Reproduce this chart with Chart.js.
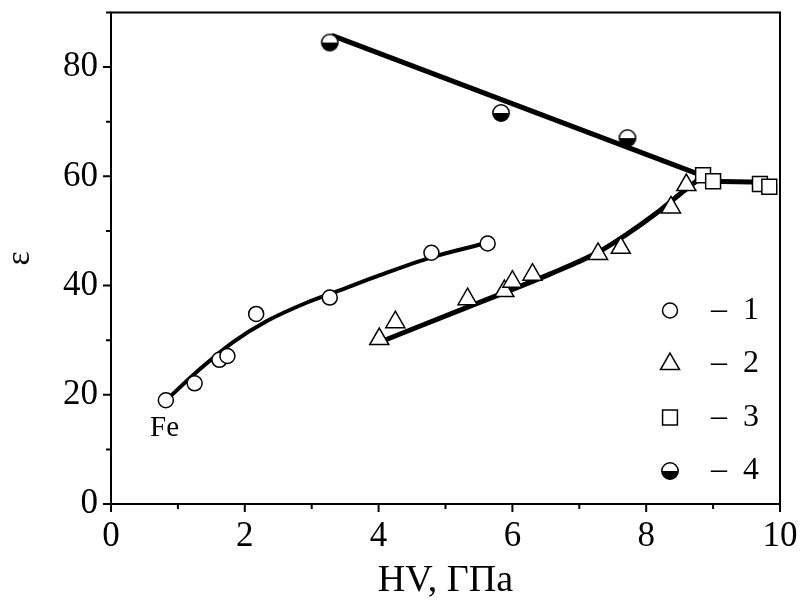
<!DOCTYPE html>
<html>
<head>
<meta charset="utf-8">
<script src="https://cdn.jsdelivr.net/npm/chart.js@4.4.1/dist/chart.umd.min.js"></script>
<style>
  html, body { margin: 0; padding: 0; background: #fff; }
  #wrap { width: 802px; height: 608px; }
</style>
</head>
<body>
<div id="wrap"><canvas id="grafico" width="802" height="608"></canvas></div>
<script>
// serie 1 (circulos)
const hv1 = [0.82, 1.25, 1.62, 1.74, 2.17, 3.27, 4.79, 5.63];
const eps1 = [19.0, 22.1, 26.4, 27.1, 34.8, 37.8, 46.0, 47.7];
// serie 2 (triangulos)
const hv2 = [4.01, 4.25, 5.33, 5.88, 6.0, 6.3, 7.28, 7.62, 8.37, 8.6];
const eps2 = [30.2, 33.3, 37.5, 39.0, 40.7, 42.0, 45.8, 46.9, 54.3, 58.4];
// serie 3 (cuadrados)
const hv3 = [8.85, 9.0, 9.7, 9.84];
const eps3 = [60.2, 59.1, 58.6, 58.1];
// serie 4 (medio circulo)
const hv4 = [3.27, 5.83, 7.72];
const eps4 = [84.5, 71.6, 67.0];

// curvas de ajuste
const fitHv1 = [0.85, 1.33, 1.82, 2.33, 2.93, 3.5, 4.0, 4.8, 5.55];
const fitEps1 = [19.3, 24.7, 29.6, 33.5, 36.9, 39.5, 41.8, 45.2, 47.6];
const fitHv2 = [4.07, 5.36, 6.56, 7.28, 7.71, 8.21, 8.51, 8.8];
const fitEps2 = [29.9, 36.2, 42.1, 46.1, 49.4, 53.8, 56.8, 59.6];
const fitHv3 = [8.9, 9.8];
const fitEps3 = [59.1, 58.9];
const fitHv4 = [3.3, 8.85];
const fitEps4 = [85.8, 60.1];

const xTickLabels = [0, 2, 4, 6, 8, 10];
const yTickLabels = [0, 20, 40, 60, 80];
const legendLabels = ["1", "2", "3", "4"];
const feLabel = { text: "Fe", x: 0.8, y: 13.8 };

const fuente = "'Liberation Serif', 'Times New Roman', serif";

const toPoints = (xs, ys) => xs.map((x, i) => ({ x, y: ys[i] }));

// marcador medio relleno (arriba blanco, abajo negro)
const medioCirculo = (() => {
  const c = document.createElement("canvas");
  c.width = 20;
  c.height = 20;
  const g = c.getContext("2d");
  g.beginPath();
  g.arc(10, 10, 8.2, 0, Math.PI * 2);
  g.fillStyle = "#fff";
  g.fill();
  g.beginPath();
  g.arc(10, 10, 8.2, 0, Math.PI);
  g.closePath();
  g.fillStyle = "#000";
  g.fill();
  g.beginPath();
  g.arc(10, 10, 8.2, 0, Math.PI * 2);
  g.lineWidth = 1.5;
  g.strokeStyle = "#000";
  g.stroke();
  return c;
})();

const marcadores = [
  { pointStyle: "circle", radius: 7.5 },
  { pointStyle: "triangle", radius: 11 },
  { pointStyle: "rect", radius: 10.5 },
  { pointStyle: medioCirculo, radius: 9 },
];

const serieMarcas = (xs, ys, i) => ({
  data: toPoints(xs, ys),
  showLine: false,
  pointStyle: marcadores[i].pointStyle,
  pointRadius: marcadores[i].radius,
  pointBackgroundColor: "#fff",
  pointBorderColor: "#000",
  pointBorderWidth: 1.5,
  order: 0,
});

const serieAjuste = (xs, ys, ancho, curva) => ({
  data: toPoints(xs, ys),
  showLine: true,
  pointRadius: 0,
  borderColor: "#000",
  borderWidth: ancho,
  cubicInterpolationMode: curva ? "monotone" : "default",
  order: 1,
});

// marco, ticks, etiqueta Fe y leyenda
const decoracion = {
  id: "decoracion",
  beforeDatasetsDraw(chart) {
    const { ctx, chartArea: a, scales } = chart;
    ctx.save();
    ctx.strokeStyle = "#000";
    ctx.lineWidth = 2;
    ctx.strokeRect(a.left, a.top, a.right - a.left, a.bottom - a.top);
    ctx.beginPath();
    scales.x.ticks.forEach((t) => {
      const px = scales.x.getPixelForValue(t.value);
      const largo = xTickLabels.includes(t.value) ? 8 : 5;
      ctx.moveTo(px, a.bottom);
      ctx.lineTo(px, a.bottom + largo);
    });
    scales.y.ticks.forEach((t) => {
      const py = scales.y.getPixelForValue(t.value);
      const largo = yTickLabels.includes(t.value) ? 8 : 5;
      ctx.moveTo(a.left, py);
      ctx.lineTo(a.left - largo, py);
    });
    ctx.stroke();
    ctx.restore();
  },
  afterDraw(chart) {
    const { ctx, chartArea: a, scales } = chart;
    ctx.save();
    ctx.fillStyle = "#000";
    ctx.font = "29px " + fuente;
    ctx.textAlign = "center";
    ctx.textBaseline = "middle";
    ctx.fillText(feLabel.text, scales.x.getPixelForValue(feLabel.x), scales.y.getPixelForValue(feLabel.y));

    const mx = a.right - 110;
    const tx = a.right - 69;
    legendLabels.forEach((txt, i) => {
      const y = a.top + 298 + i * 53.5;
      ctx.fillStyle = "#fff";
      ctx.strokeStyle = "#000";
      ctx.lineWidth = 1.5;
      Chart.helpers.drawPoint(ctx, { pointStyle: marcadores[i].pointStyle, radius: marcadores[i].radius, borderWidth: 1.5, rotation: 0 }, mx, y);
      ctx.fillStyle = "#000";
      ctx.font = "32px " + fuente;
      ctx.textAlign = "left";
      ctx.textBaseline = "middle";
      ctx.fillText("–", tx, y);
      ctx.fillText(txt, tx + 32, y);
    });
    ctx.restore();
  },
};

new Chart(document.getElementById("grafico"), {
  type: "scatter",
  data: {
    datasets: [
      serieMarcas(hv1, eps1, 0),
      serieMarcas(hv2, eps2, 1),
      serieMarcas(hv3, eps3, 2),
      serieMarcas(hv4, eps4, 3),
      serieAjuste(fitHv1, fitEps1, 4, true),
      serieAjuste(fitHv2, fitEps2, 5, true),
      serieAjuste(fitHv3, fitEps3, 5, false),
      serieAjuste(fitHv4, fitEps4, 5, false),
    ],
  },
  options: {
    responsive: false,
    animation: false,
    layout: { padding: { top: 10, right: 22, left: 0, bottom: 0 } },
    plugins: {
      legend: { display: false },
      tooltip: { enabled: false },
    },
    scales: {
      x: {
        type: "linear",
        min: 0,
        max: 10,
        grid: { display: false, drawTicks: false },
        border: { display: false },
        ticks: {
          stepSize: 1,
          autoSkip: false,
          maxRotation: 0,
          padding: 12,
          color: "#000",
          font: { family: fuente, size: 35 },
          callback: (v) => (xTickLabels.includes(v) ? String(v) : ""),
        },
        title: {
          display: true,
          text: "HV, ГПа",
          color: "#000",
          font: { family: fuente, size: 38 },
          padding: { top: 0, bottom: 4 },
        },
        afterFit: (s) => {
          s.height = 104;
          s.paddingLeft = 0;
          s.paddingRight = 0;
        },
      },
      y: {
        type: "linear",
        min: 0,
        max: 90,
        grid: { display: false, drawTicks: false },
        border: { display: false },
        ticks: {
          stepSize: 10,
          autoSkip: false,
          padding: 13,
          color: "#000",
          font: { family: fuente, size: 35 },
          callback: (v) => (yTickLabels.includes(v) ? String(v) : ""),
        },
        title: {
          display: true,
          text: "ε",
          color: "#000",
          font: { family: fuente, size: 34 },
          padding: { top: 0, bottom: 0 },
        },
        afterFit: (s) => {
          s.width = 111;
          s.paddingTop = 0;
          s.paddingBottom = 0;
        },
      },
    },
  },
  plugins: [decoracion],
});
</script>
</body>
</html>
